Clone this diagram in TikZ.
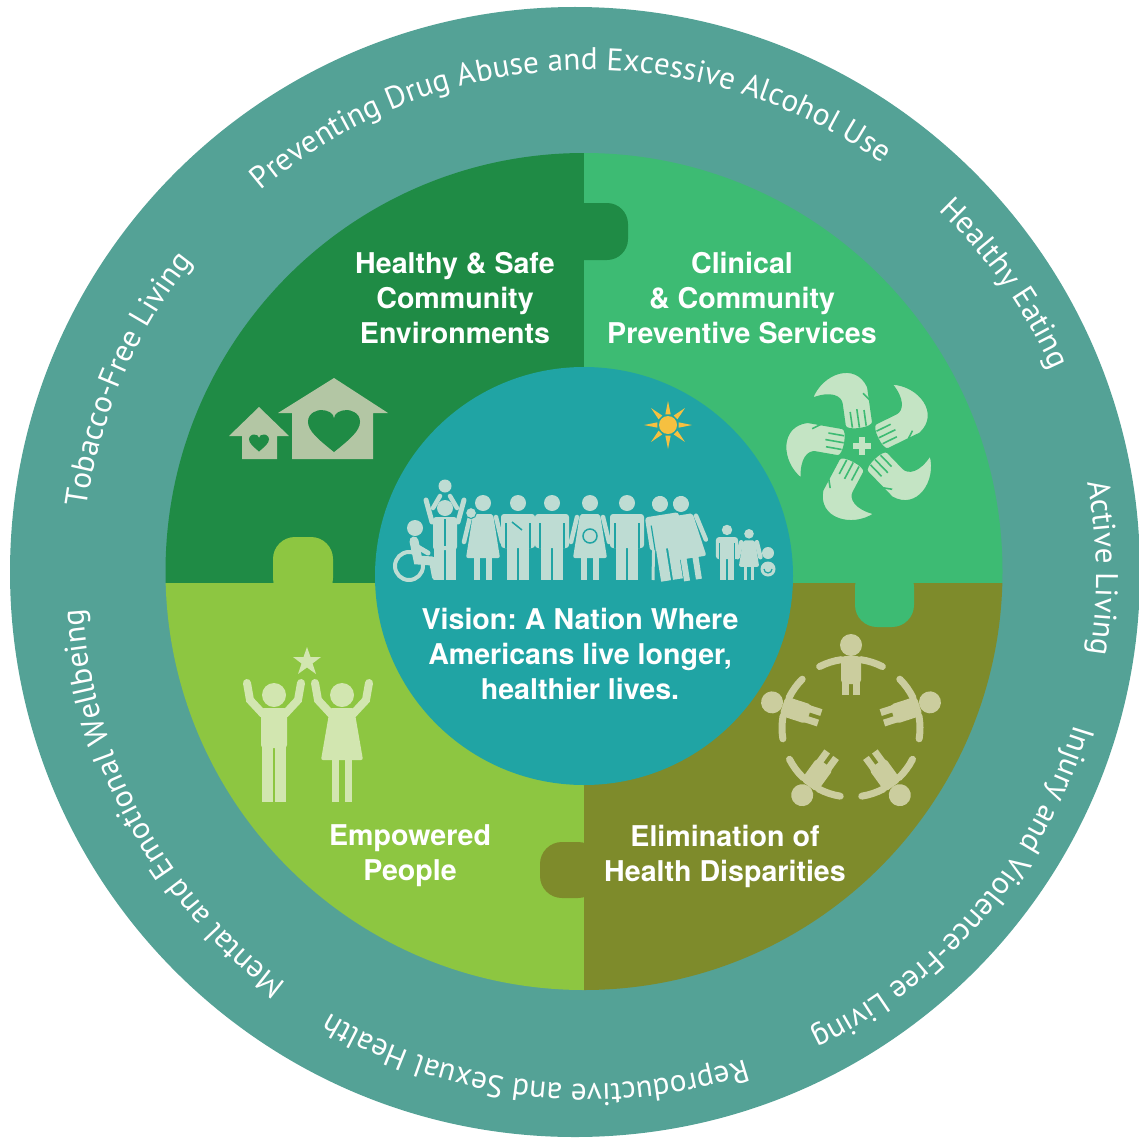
\documentclass[tikz,border=0pt]{standalone}
\usepackage{fontspec}
\setmainfont{TeX Gyre Heros}
\newfontfamily\ringfont{PT Sans}
\usetikzlibrary{decorations.text}

\definecolor{ringc}{HTML}{54A296}
\definecolor{qdark}{HTML}{1F8B45}
\definecolor{qgreen}{HTML}{3DBB73}
\definecolor{qlight}{HTML}{8DC641}
\definecolor{qolive}{HTML}{7E8B2B}
\definecolor{hubc}{HTML}{20A4A4}
\definecolor{sunc}{HTML}{F6C040}
\definecolor{housec}{HTML}{B3C6A4}
\definecolor{handc}{HTML}{C4E4C4}
\definecolor{famc}{HTML}{BEDCD3}
\definecolor{empc}{HTML}{D2E6B0}
\definecolor{pplc}{HTML}{CBCD9E}

\tikzset{
  qlabel/.style={text=white, font=\bfseries\fontsize{28.6}{35}\selectfont, align=center, inner sep=0pt},
  ringtext/.style={decorate, decoration={text along path, text align=center, text color=white,
      text={|\ringfont\fontsize{31.3}{31.3}\selectfont|#1}}},
}

% heart of width #3 and height #4 centred at (#1,#2)
\newcommand\heartat[5]{%
  \fill[#5, shift={(#1,#2)}, xscale=#3, yscale=#4]
    (0,-0.5) .. controls (-0.3,-0.2) and (-0.5,0) .. (-0.5,0.22)
    .. controls (-0.5,0.45) and (-0.3,0.5) .. (-0.25,0.5)
    .. controls (-0.12,0.5) and (0,0.42) .. (0,0.3)
    .. controls (0,0.42) and (0.12,0.5) .. (0.25,0.5)
    .. controls (0.3,0.5) and (0.5,0.45) .. (0.5,0.22)
    .. controls (0.5,0) and (0.3,-0.2) .. (0,-0.5) -- cycle;}

% pictogram man, feet centred at the scope origin
\newcommand\figman{%
  \fill (0,77) circle[radius=8];
  \fill[rounded corners=3] (-17,66) rectangle (17,32);
  \fill (-11,37) rectangle (-1,0);
  \fill (1,37) rectangle (11,0);
  \draw[hubc, line width=1.2] (-12,57) -- (-12,32) (12,57) -- (12,32);}

% pictogram woman, feet centred at the scope origin
\newcommand\figwoman{%
  \fill (0,77) circle[radius=8];
  \fill[rounded corners=2] (-10,66) -- (10,66) -- (17,22) -- (-17,22) -- cycle;
  \draw[line width=4.5, line cap=round] (-13,63) -- (-19,38) (13,63) -- (19,38);
  \fill (-9,23) rectangle (-3,0);
  \fill (3,23) rectangle (9,0);}

\begin{document}
\frenchspacing
\begin{tikzpicture}[x=1pt, y=1pt]
\useasboundingbox (0,0) rectangle (1139,-1145);
\fill[white] (0,0) rectangle (1139,-1145);

\coordinate (O) at (575,-572);   % outer ring
\coordinate (T) at (589,-577);   % centre of the ring captions
\coordinate (D) at (584,-571.5); % puzzle disc
\coordinate (C) at (584,-576);   % vision disc

% outer ring
\fill[ringc] (O) circle[radius=565];

% four puzzle quadrants
\begin{scope}
  \clip (D) circle[radius=418.5];
  \fill[qdark]  (150,-140) rectangle (584,-583);
  \fill[qgreen] (584,-140) rectangle (1020,-583);
  \fill[qlight] (150,-583) rectangle (584,-1000);
  \fill[qolive] (584,-583) rectangle (1020,-1000);
\end{scope}

% puzzle tabs
\fill[qdark,  rounded corners=21] (560,-203) rectangle (628,-260);
\fill[qlight, rounded corners=22] (273,-537) rectangle (333,-600);
\fill[qgreen, rounded corners=22] (855,-565) rectangle (914,-627);
\fill[qolive, rounded corners=22] (540,-842) rectangle (600,-898);

% central disc
\fill[hubc] (C) circle[radius=209];

% quadrant titles
\node[qlabel] (env)  at (455,-298) {Healthy \& Safe\\Community\\Environments};
\node[qlabel] (clin) at (742,-298) {Clinical\\\& Community\\Preventive Services};
\node[qlabel] (emp)  at (410,-856) {Empowered\\People};
\node[qlabel] (elim) at (725,-856) {Elimination of\\Health Disparities};
\node[qlabel] (vision) at (580,-654) {Vision: A Nation Where\\Americans live longer,\\healthier lives.};

% ring captions, running clockwise
\path[ringtext={Preventing Drug Abuse and Excessive Alcohol Use}]
  ([shift={(162.5:507)}]T) arc[start angle=162.5, end angle=22.5, radius=507];
\path[ringtext={Healthy Eating}]
  ([shift={(85.2:507)}]T) arc[start angle=85.2, end angle=-14.8, radius=507];
\path[ringtext={Active Living}]
  ([shift={(51:507)}]T) arc[start angle=51, end angle=-49, radius=507];
\path[ringtext={Injury and Violence-Free Living}]
  ([shift={(19.5:507)}]T) arc[start angle=19.5, end angle=-100.5, radius=507];
\path[ringtext={Reproductive and Sexual Health}]
  ([shift={(-36.4:507)}]T) arc[start angle=-36.4, end angle=-156.4, radius=507];
\path[ringtext={Mental and Emotional Wellbeing}]
  ([shift={(-91.5:507)}]T) arc[start angle=-91.5, end angle=-211.5, radius=507];
\path[ringtext={Tobacco-Free Living}]
  ([shift={(206.8:507)}]T) arc[start angle=206.8, end angle=106.8, radius=507];

% houses
\fill[housec] (278,-413) -- (334,-378) -- (388,-413) -- (373,-413) -- (373,-459)
  -- (292,-459) -- (292,-413) -- cycle;
\fill[housec] (229,-436) -- (259,-407) -- (289,-436) -- (277,-436) -- (277,-459)
  -- (242,-459) -- (242,-436) -- cycle;
\heartat{334}{-431}{52}{42}{qdark}
\heartat{259}{-443}{20}{17}{qdark}

% caring hands around a cross
\begin{scope}[shift={(862,-446)}, scale=0.93]
  \foreach \k in {0,...,4}{
    \begin{scope}[rotate=72*\k+8]
      \filldraw[fill=handc, draw=qgreen, line width=1.5]
        (-15,24) -- (-15,48) .. controls (-15,56) and (-25,63) .. (-46,58)
        .. controls (-32,84) and (6,92) .. (15,62) -- (15,24)
        .. controls (15,17) and (-15,17) .. (-15,24) -- cycle;
      \draw[qgreen, line width=1.6] (-7.5,21) -- (-7.5,38) (0,20) -- (0,40) (7.5,21) -- (7.5,38);
      \draw[qgreen, line width=1.6] (15,48) -- (9,56);
    \end{scope}
  }
  \fill[handc] (-3.5,-10) rectangle (3.5,10);
  \fill[handc] (-10,-3.5) rectangle (10,3.5);
\end{scope}

% sun
\begin{scope}[shift={(668,-425)}]
  \fill[sunc] (0,0) circle[radius=9];
  \foreach \a in {0,45,...,315}
    \fill[sunc] (\a+14:11) -- (\a:24) -- (\a-14:11) -- cycle;
\end{scope}

% family row
\begin{scope}[famc]
  % wheelchair user
  \fill (415,-528) circle[radius=8];
  \draw[line width=9, line cap=round] (414,-541) -- (418,-560) -- (432,-561);
  \draw[line width=6, line cap=round] (432,-561) -- (435,-577);
  \draw[line width=5, line cap=round] (416,-546) -- (428,-553);
  \draw[line width=4] (409,-566) circle[radius=14];
  % father with child on shoulders
  \fill (445,-486) circle[radius=6.5];
  \draw[line width=4.5, line cap=round] (440,-496) -- (433,-508) (450,-496) -- (457,-508);
  \draw[line width=5, line cap=round] (432,-522) -- (426,-500) (458,-522) -- (464,-500);
  \fill (445,-508) circle[radius=8];
  \fill[rounded corners=3] (433,-517) rectangle (457,-550);
  \fill (434,-545) rectangle (444,-580);
  \fill (446,-545) rectangle (456,-580);
  \draw[hubc, line width=1.5] (445,-519) -- (445,-546);
  % mother with baby
  \begin{scope}[shift={(483,-580)}] \figwoman \end{scope}
  \fill[draw=hubc, line width=1] (471,-513) circle[radius=5.5];
  % standing men and women
  \begin{scope}[shift={(518,-580)}] \figman \end{scope}
  \draw[hubc, line width=1.5] (512,-522) -- (522,-530);
  \begin{scope}[shift={(552,-580)}] \figman \end{scope}
  \begin{scope}[shift={(590,-580)}] \figwoman \end{scope}
  \draw[hubc, line width=1.5] (590,-536) circle[radius=7];
  \begin{scope}[shift={(627,-580)}] \figman \end{scope}
  % elderly couple with cane
  \draw[line width=3] (654,-524) -- (653,-580);
  \begin{scope}[shift={(672,-580)}, rotate=9] \figman \end{scope}
  \begin{scope}[shift={(693,-580)}, rotate=9] \figwoman \end{scope}
  % children and baby
  \begin{scope}[shift={(727,-580)}, scale=0.65] \figman \end{scope}
  \begin{scope}[shift={(749,-580)}, scale=0.6] \figwoman \end{scope}
  \fill (768,-553) circle[radius=6];
  \fill (768,-569) circle[radius=7.5];
  \draw[hubc, line width=1.2] (764,-569) arc[start angle=180, end angle=360, radius=4];
\end{scope}

% two people reaching for a star
\begin{scope}[empc]
  \fill (307,-647) -- (310.5,-657) -- (321,-657) -- (312.5,-663.5) -- (316,-674)
    -- (307,-667.5) -- (298,-674) -- (301.5,-663.5) -- (293,-657) -- (303.5,-657) -- cycle;
  \fill (274,-695) circle[radius=12];
  \draw[line width=8, line cap=round] (263,-714) -- (250,-700) -- (247,-683)
    (285,-714) -- (298,-700) -- (301,-683);
  \fill[rounded corners=3] (261,-708) rectangle (287,-748);
  \fill (262,-744) rectangle (273,-802);
  \fill (275,-744) rectangle (286,-802);
  \fill (342,-695) circle[radius=12];
  \draw[line width=8, line cap=round] (331,-714) -- (318,-700) -- (315,-683)
    (353,-714) -- (366,-700) -- (369,-683);
  \fill[rounded corners=2] (330,-708) -- (354,-708) -- (363,-760) -- (321,-760) -- cycle;
  \fill (332,-758) rectangle (339,-802);
  \fill (345,-758) rectangle (352,-802);
\end{scope}

% ring of people holding hands
\begin{scope}[pplc, shift={(851,-728)}]
  \foreach \k in {0,...,4}{
    \begin{scope}[rotate=72*\k]
      \fill (0,83) circle[radius=11];
      \fill[rounded corners=4] (-10,72) rectangle (10,44);
      \fill (-9,46) rectangle (-2,33);
      \fill (2,46) rectangle (9,33);
      \draw[line width=7, line cap=round] (98:69) arc[start angle=98, end angle=117, radius=69];
      \draw[line width=7, line cap=round] (82:69) arc[start angle=82, end angle=63, radius=69];
    \end{scope}
  }
\end{scope}
\end{tikzpicture}
\end{document}
